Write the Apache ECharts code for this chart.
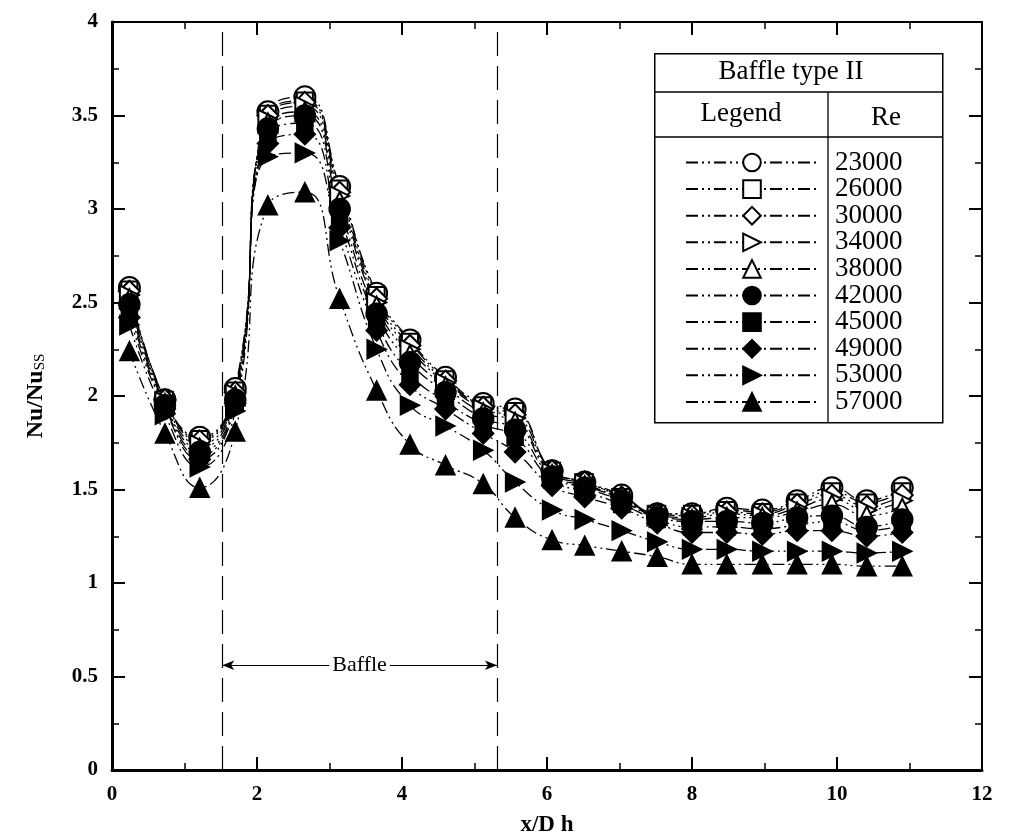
<!DOCTYPE html>
<html>
<head>
<meta charset="utf-8">
<script src="https://cdn.jsdelivr.net/npm/echarts@6/dist/echarts.min.js"></script>
<style>
html,body{margin:0;padding:0;background:#fff;}
#chart{width:1012px;height:836px;}
</style>
</head>
<body>
<div id="chart"></div>
<script>
// x/Dh positions of measurement points
const xPos = [0.24, 0.73, 1.21, 1.70, 2.15, 2.66, 3.14, 3.65, 4.11, 4.60, 5.12, 5.56, 6.07, 6.52, 7.03, 7.52, 8.00, 8.48, 8.97, 9.45, 9.93, 10.41, 10.90];

const reNames = ['23000', '26000', '30000', '34000', '38000', '42000', '45000', '49000', '53000', '57000'];

const re23000 = [2.58, 1.98, 1.78, 2.04, 3.52, 3.60, 3.12, 2.55, 2.30, 2.10, 1.96, 1.93, 1.60, 1.54, 1.47, 1.37, 1.37, 1.40, 1.39, 1.44, 1.51, 1.44, 1.51];
const re26000 = [2.57, 1.98, 1.77, 2.03, 3.51, 3.58, 3.11, 2.54, 2.29, 2.09, 1.95, 1.92, 1.60, 1.54, 1.46, 1.37, 1.37, 1.39, 1.38, 1.43, 1.49, 1.43, 1.49];
const re30000 = [2.56, 1.98, 1.76, 2.02, 3.50, 3.57, 3.09, 2.52, 2.27, 2.08, 1.94, 1.90, 1.60, 1.54, 1.46, 1.37, 1.36, 1.38, 1.37, 1.42, 1.47, 1.41, 1.47];
const re34000 = [2.54, 1.97, 1.74, 2.01, 3.48, 3.55, 3.07, 2.50, 2.25, 2.07, 1.93, 1.88, 1.59, 1.53, 1.45, 1.36, 1.35, 1.37, 1.36, 1.40, 1.45, 1.39, 1.44];
const re38000 = [2.52, 1.96, 1.72, 2.00, 3.46, 3.52, 3.04, 2.48, 2.22, 2.05, 1.91, 1.86, 1.58, 1.52, 1.45, 1.36, 1.34, 1.35, 1.35, 1.38, 1.42, 1.36, 1.40];
const re42000 = [2.49, 1.95, 1.70, 1.98, 3.43, 3.50, 3.00, 2.44, 2.18, 2.02, 1.88, 1.82, 1.57, 1.51, 1.44, 1.35, 1.33, 1.33, 1.32, 1.35, 1.36, 1.30, 1.34];
const re45000 = [2.46, 1.94, 1.68, 1.97, 3.40, 3.46, 2.96, 2.40, 2.12, 1.97, 1.85, 1.78, 1.55, 1.49, 1.42, 1.34, 1.30, 1.30, 1.29, 1.31, 1.33, 1.28, 1.31];
const re49000 = [2.42, 1.93, 1.66, 1.96, 3.35, 3.40, 2.90, 2.35, 2.06, 1.93, 1.80, 1.70, 1.52, 1.46, 1.40, 1.32, 1.27, 1.27, 1.26, 1.28, 1.28, 1.25, 1.27];
const re53000 = [2.38, 1.90, 1.62, 1.92, 3.28, 3.30, 2.83, 2.25, 1.95, 1.84, 1.71, 1.54, 1.39, 1.34, 1.28, 1.22, 1.18, 1.18, 1.17, 1.17, 1.17, 1.16, 1.17];
const re57000 = [2.24, 1.80, 1.51, 1.81, 3.02, 3.09, 2.52, 2.03, 1.74, 1.63, 1.53, 1.35, 1.23, 1.20, 1.17, 1.14, 1.10, 1.10, 1.10, 1.10, 1.10, 1.09, 1.09];

const seriesValues = [re23000, re26000, re30000, re34000, re38000, re42000, re45000, re49000, re53000, re57000];

// baffle extent (x/Dh) and arrow height
const baffleStart = 1.52;
const baffleEnd = 5.31;
const baffleArrowY = 0.56;

const xTicks = [0, 2, 4, 6, 8, 10, 12];
const yTicks = [0, 0.5, 1, 1.5, 2, 2.5, 3, 3.5, 4];

const symbols = [
  {symbol: 'emptyCircle', size: 21, rotate: 0},
  {symbol: 'emptyRect', size: 16, rotate: 0},
  {symbol: 'emptyDiamond', size: 21, rotate: 0},
  {symbol: 'emptyTriangle', size: 19, rotate: -90},
  {symbol: 'emptyTriangle', size: 19, rotate: 0},
  {symbol: 'circle', size: 21, rotate: 0},
  {symbol: 'rect', size: 16, rotate: 0},
  {symbol: 'diamond', size: 21, rotate: 0},
  {symbol: 'triangle', size: 19, rotate: -90},
  {symbol: 'triangle', size: 19, rotate: 0}
];

const serif = "'Liberation Serif', 'Times New Roman', serif";
const dashDotDot = [12, 4, 2, 4, 2, 4];

const series = seriesValues.map((vals, i) => ({
  name: reNames[i],
  type: 'line',
  smooth: 0.5,
  data: vals.map((v, j) => [xPos[j], v]),
  symbol: symbols[i].symbol,
  symbolSize: symbols[i].size,
  symbolRotate: symbols[i].rotate,
  showAllSymbol: true,
  lineStyle: {color: '#000', width: 1.3, type: dashDotDot},
  itemStyle: {color: '#000', borderColor: '#000', borderWidth: 1.5},
  emphasis: {disabled: true},
  animation: false,
  z: 3
}));

// helper series for baffle marks
series.push({
  type: 'line',
  data: [],
  silent: true,
  animation: false,
  markLine: {
    silent: true,
    animation: false,
    symbol: 'none',
    label: {show: false},
    lineStyle: {color: '#000', type: [24, 10], width: 1.2},
    data: [{xAxis: baffleStart}, {xAxis: baffleEnd}]
  }
});
series.push({
  type: 'line',
  data: [],
  silent: true,
  animation: false,
  markLine: {
    silent: true,
    animation: false,
    symbol: ['arrow', 'arrow'],
    symbolSize: [7, 12],
    lineStyle: {color: '#000', type: 'solid', width: 1},
    label: {
      show: true,
      position: 'middle',
      formatter: 'Baffle',
      fontFamily: serif,
      fontSize: 22,
      color: '#000',
      backgroundColor: '#fff',
      padding: [0, 3],
      distance: -11
    },
    data: [[{coord: [baffleStart, baffleArrowY]}, {coord: [baffleEnd, baffleArrowY]}]]
  }
});

const chart = echarts.init(document.getElementById('chart'));
const gLeft = 112, gTop = 22, gRight = 30, gBottom = 66;

const axisCommon = {
  min: 0,
  splitLine: {show: false},
  axisTick: {inside: true, length: 13, lineStyle: {color: '#000', width: 2}},
  minorTick: {show: true, splitNumber: 2, length: 7, lineStyle: {color: '#000', width: 1.5}},
  minorSplitLine: {show: false}
};

chart.setOption({
  backgroundColor: '#fff',
  animation: false,
  grid: {left: gLeft, top: gTop, right: gRight, bottom: gBottom, containLabel: false, outerBoundsMode: 'none'},
  legend: {
    orient: 'vertical',
    left: 680,
    top: 144,
    itemWidth: 132,
    itemHeight: 22,
    itemGap: -0.4,
    data: reNames,
    selectedMode: false,
    textStyle: {fontFamily: serif, fontSize: 27, color: '#000', padding: [0, 0, 0, 12]}
  },
  xAxis: [
    Object.assign({}, axisCommon, {
      type: 'value', max: 12, interval: 2, position: 'bottom',
      name: 'x/D h', nameLocation: 'middle', nameGap: 44,
      nameTextStyle: {fontFamily: serif, fontSize: 23, fontWeight: 'bold', color: '#000'},
      axisLine: {onZero: false, lineStyle: {color: '#000', width: 3}},
      axisLabel: {
        fontFamily: serif, fontSize: 21, fontWeight: 'bold', color: '#000', margin: 14,
        formatter: v => (xTicks.indexOf(v) >= 0 ? String(v) : '')
      }
    }),
    Object.assign({}, axisCommon, {
      type: 'value', max: 12, interval: 2, position: 'top',
      axisLine: {onZero: false, lineStyle: {color: '#000', width: 2}},
      axisLabel: {show: false}
    })
  ],
  yAxis: [
    Object.assign({}, axisCommon, {
      type: 'value', max: 4, interval: 0.5, position: 'left',
      name: '{a|Nu/Nu}{b|SS}', nameLocation: 'middle', nameGap: 64,
      nameTextStyle: {
        color: '#000',
        rich: {
          a: {fontFamily: serif, fontSize: 24, fontWeight: 'bold', color: '#000'},
          b: {fontFamily: serif, fontSize: 15, color: '#000', padding: [10, 0, 0, 0]}
        }
      },
      axisLine: {onZero: false, lineStyle: {color: '#000', width: 3}},
      axisLabel: {
        fontFamily: serif, fontSize: 21, fontWeight: 'bold', color: '#000', margin: 14,
        formatter: v => (yTicks.indexOf(v) >= 0 ? String(v) : '')
      }
    }),
    Object.assign({}, axisCommon, {
      type: 'value', max: 4, interval: 0.5, position: 'right',
      axisLine: {onZero: false, lineStyle: {color: '#000', width: 2}},
      axisLabel: {show: false}
    })
  ],
  graphic: [
    {type: 'rect', left: 654, top: 53, z: 1,
     shape: {width: 288, height: 369},
     style: {fill: '#fff', stroke: '#000', lineWidth: 1.5}},
    {type: 'line', z: 2, shape: {x1: 654, y1: 92, x2: 942, y2: 92}, style: {stroke: '#000', lineWidth: 1.3}},
    {type: 'line', z: 2, shape: {x1: 654, y1: 137, x2: 942, y2: 137}, style: {stroke: '#000', lineWidth: 1.3}},
    {type: 'line', z: 2, shape: {x1: 828, y1: 92, x2: 828, y2: 422}, style: {stroke: '#000', lineWidth: 1.3}},
    {type: 'text', z: 2, x: 791, y: 72, style: {text: 'Baffle type II', font: '27px ' + serif, fill: '#000', textAlign: 'center', textVerticalAlign: 'middle'}},
    {type: 'text', z: 2, x: 741, y: 114, style: {text: 'Legend', font: '27px ' + serif, fill: '#000', textAlign: 'center', textVerticalAlign: 'middle'}},
    {type: 'text', z: 2, x: 886, y: 118, style: {text: 'Re', font: '27px ' + serif, fill: '#000', textAlign: 'center', textVerticalAlign: 'middle'}}
  ],
  series: series
});
</script>
</body>
</html>
